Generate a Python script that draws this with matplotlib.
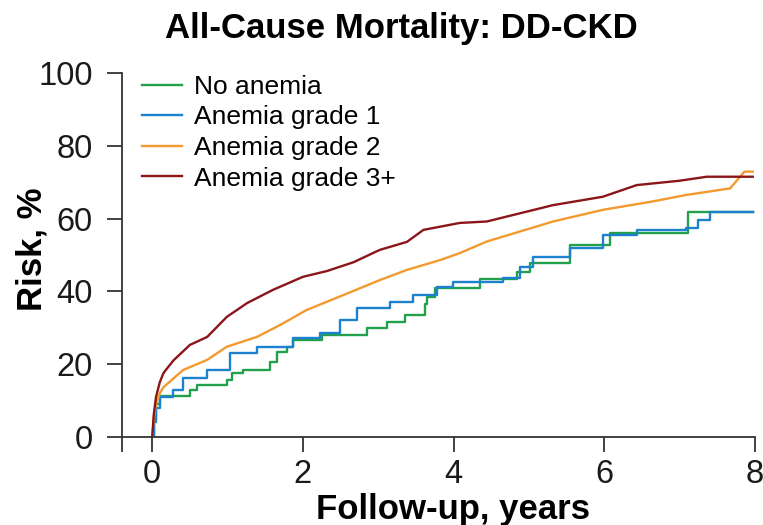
import matplotlib.pyplot as plt

plt.rcParams['font.family'] = ['Liberation Sans', 'DejaVu Sans']

# Kaplan-Meier style cumulative risk (%) by follow-up time (years)
t_none = [0, 0.02, 0.05, 0.1, 0.5, 0.6, 0.99, 1.06, 1.21, 1.56, 1.65, 1.79, 1.87,
          2.25, 2.85, 3.12, 3.36, 3.62, 3.65, 3.75, 4.35, 4.84, 5.01, 5.54, 6.07, 7.11, 7.97]
r_none = [0, 5, 9, 11.2, 12.9, 14.3, 15.7, 17.5, 18.4, 20.7, 23.4, 24.8, 26.6,
          28.0, 29.9, 31.7, 33.5, 36.5, 38.5, 40.9, 43.4, 45.4, 47.7, 52.7, 56.0, 61.9, 61.9]

t_g1 = [0, 0.02, 0.05, 0.1, 0.28, 0.41, 0.73, 1.03, 1.39, 1.87, 2.23, 2.49, 2.72,
        3.16, 3.46, 3.78, 3.99, 4.66, 4.88, 5.05, 5.54, 5.98, 6.43, 7.09, 7.25, 7.4, 7.97]
r_g1 = [0, 4, 8, 11.0, 12.9, 16.2, 18.4, 23.0, 24.8, 27.1, 28.5, 32.1, 35.4,
        37.1, 39.0, 41.3, 42.7, 43.6, 46.8, 49.5, 51.9, 55.5, 56.9, 57.3, 59.5, 61.9, 61.9]

t_g2 = [0, 0.02, 0.05, 0.1, 0.15, 0.41, 0.73, 0.99, 1.39, 1.7, 2.05, 2.49, 3.02,
        3.38, 3.82, 4.08, 4.44, 5.32, 5.98, 6.64, 7.09, 7.67, 7.86, 7.97]
r_g2 = [0, 5, 9, 12.0, 13.7, 18.4, 21.2, 24.8, 27.5, 30.8, 34.9, 38.6, 43.1,
        45.9, 48.6, 50.5, 53.7, 59.2, 62.4, 64.7, 66.5, 68.3, 72.9, 72.9]

t_g3 = [0, 0.02, 0.05, 0.1, 0.15, 0.28, 0.5, 0.73, 0.99, 1.26, 1.6, 2.0, 2.32,
        2.67, 3.02, 3.38, 3.6, 4.08, 4.44, 5.32, 5.98, 6.43, 7.0, 7.36, 7.97]
r_g3 = [0, 6, 11, 15.0, 17.6, 21.0, 25.3, 27.5, 33.0, 36.8, 40.4, 44.0, 45.6,
        48.0, 51.4, 53.6, 56.9, 58.8, 59.2, 63.7, 66.0, 69.2, 70.4, 71.5, 71.5]

labels = ["No anemia", "Anemia grade 1", "Anemia grade 2", "Anemia grade 3+"]
colors = ["#22a04b", "#1c82cf", "#f39a2f", "#8b1518"]

fig = plt.figure(figsize=(7.63, 5.25), dpi=100)
ax = fig.add_axes([0.16, 0.1676, 0.8295, 0.6934])

series = [(t_none, r_none, 'steps-post'), (t_g1, r_g1, 'steps-post'),
          (t_g2, r_g2, 'default'), (t_g3, r_g3, 'default')]
for (t, r, ds), lab, c in zip(series, labels, colors):
    ax.plot(t, r, color=c, lw=1.7, label=lab, drawstyle=ds)

ax.set_xlim(-0.4, 8)
ax.set_ylim(0, 100)
ax.set_xticks([-0.4, 0, 2, 4, 6, 8])
ax.set_xticklabels(["", "0", "2", "4", "6", "8"])
ax.set_yticks([0, 20, 40, 60, 80, 100])

for s in ["top", "right"]:
    ax.spines[s].set_visible(False)
for s in ["left", "bottom"]:
    ax.spines[s].set_color("#333333")
    ax.spines[s].set_linewidth(1.3)
ax.tick_params(direction="out", length=11, width=1.3, color="#333333",
               labelsize=23.5, labelcolor="#1a1a1a")
ax.tick_params(axis="x", pad=4.5)
ax.tick_params(axis="y", pad=10)

ax.set_title("All-Cause Mortality: DD-CKD", fontsize=25, fontweight="bold",
             pad=25, x=0.442)
ax.set_xlabel("Follow-up, years", fontsize=25, fontweight="bold")
ax.set_ylabel("Risk, %", fontsize=25, fontweight="bold")
ax.xaxis.set_label_coords(0.523, -0.155)
ax.yaxis.set_label_coords(-0.116, 0.515)

ax.legend(loc="upper left", bbox_to_anchor=(0.0316, 0.995), frameon=False,
          fontsize=19, handlelength=1.5, handletextpad=0.45, labelspacing=0.25,
          borderaxespad=0, borderpad=0)

fig.savefig("out.png", dpi=100)
